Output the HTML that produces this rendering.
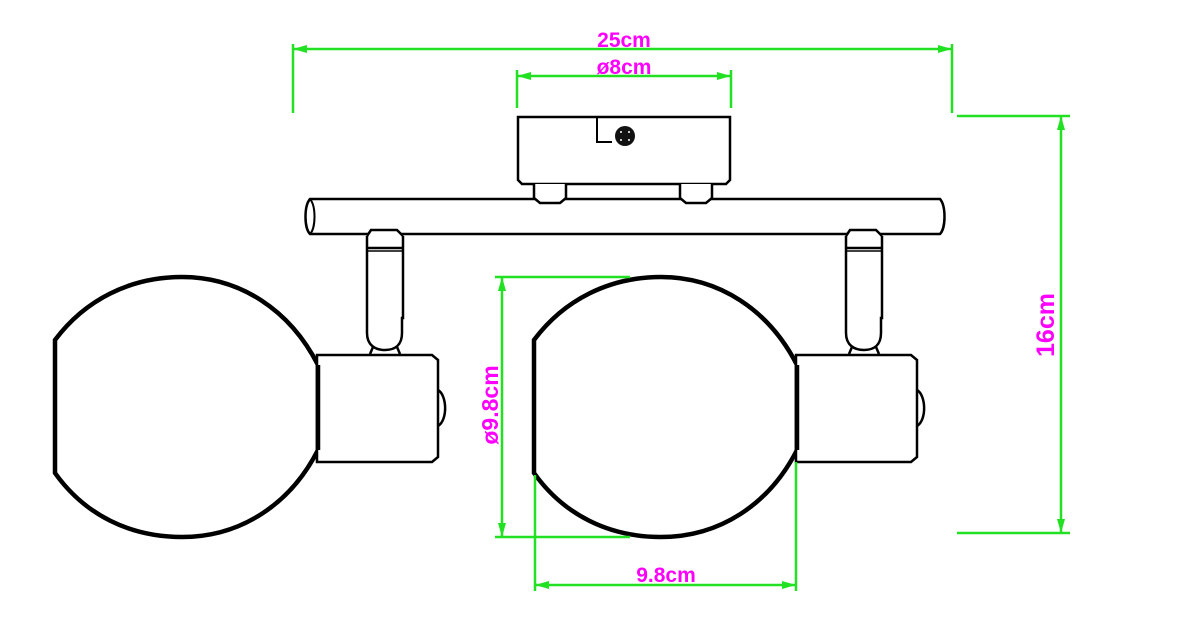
<!DOCTYPE html>
<html><head><meta charset="utf-8"><style>
html,body{margin:0;padding:0;background:#fff;}
svg{display:block;}
text{font-family:"Liberation Sans",sans-serif;font-weight:bold;fill:#ff00ff;font-size:20px;}
</style></head><body>
<svg width="1180" height="640" viewBox="0 0 1180 640" xmlns="http://www.w3.org/2000/svg">
<defs>
<g id="lamp">
  <path d="M0,340 L0,473 C30,515 75,537 127,537 C185,537 235,505 263,450 L263,365 C235,310 185,277 127,277 C75,277 30,300 0,340 Z" fill="#fff" stroke="#000" stroke-width="4.5"/>
  <path d="M312,236 L312,333 C312,345 320,350 330,350 C340,350 347,345 347,333 L347,318 L348,318 L348,236" fill="#fff" stroke="#000" stroke-width="2.5"/>
  <path d="M312,236 L316,230 L342,230 L348,236" fill="#fff" stroke="#000" stroke-width="2.5"/>
  <line x1="312" y1="248" x2="348" y2="248" stroke="#000" stroke-width="2.5"/>
  <line x1="312" y1="251" x2="348" y2="251" stroke="#000" stroke-width="1.5"/>
  <path d="M318,347 L315,354 M342,347 L345,354" stroke="#000" stroke-width="2.5"/>
  <path d="M262,355 L377,355 L383,360 L383,457 L377,462 L262,462 Z" fill="#fff" stroke="#000" stroke-width="2.5"/>
  <line x1="263" y1="365" x2="263" y2="450" stroke="#000" stroke-width="4.5"/>
  <path d="M383,390 C392,395 393,420 383,426" fill="none" stroke="#000" stroke-width="2.5"/>
</g>
</defs>
<path d="M310,199 L940,199 C946,206 946,228 940,234 L310,234 C304,228 304,206 310,199 Z" fill="#fff" stroke="#000" stroke-width="2.5"/>
<path d="M310,199 C316,206 316,228 310,234" fill="none" stroke="#000" stroke-width="2"/>
<path d="M518,117 L730,117 L730,180 L726,184 L522,184 L518,180 Z" fill="#fff" stroke="#000" stroke-width="2.5"/>
<path d="M534,184 L534,198 L540,203 L560,203 L566,198 L566,184" fill="#fff" stroke="#000" stroke-width="2.5"/>
<path d="M680,184 L680,198 L686,203 L706,203 L712,198 L712,184" fill="#fff" stroke="#000" stroke-width="2.5"/>
<path d="M597,117 L597,142 L612,142" fill="none" stroke="#000" stroke-width="2"/>
<circle cx="625" cy="136" r="10" fill="#111"/>
<g fill="#fff"><circle cx="621" cy="132" r="1"/><circle cx="629" cy="132" r="1"/><circle cx="621" cy="140" r="1"/><circle cx="629" cy="140" r="1"/></g>
<use href="#lamp" x="55"/>
<use href="#lamp" x="534"/>
<g stroke="#22e022" stroke-width="2.5" fill="none">
  <line x1="293" y1="44" x2="293" y2="113"/><line x1="952" y1="44" x2="952" y2="113"/>
  <line x1="293" y1="49" x2="952" y2="49"/>
  <line x1="517" y1="70" x2="517" y2="108"/><line x1="731" y1="70" x2="731" y2="108"/>
  <line x1="517" y1="76" x2="731" y2="76"/>
  <line x1="957" y1="116" x2="1070" y2="116"/><line x1="957" y1="533" x2="1070" y2="533"/>
  <line x1="1061" y1="116" x2="1061" y2="533"/>
  <line x1="495" y1="277" x2="630" y2="277"/><line x1="495" y1="537" x2="630" y2="537"/>
  <line x1="502" y1="277" x2="502" y2="537"/>
  <line x1="535" y1="475" x2="535" y2="591"/><line x1="796" y1="462" x2="796" y2="591"/>
  <line x1="535" y1="585" x2="796" y2="585"/>
</g>
<g fill="#22e022">
  <path d="M293,49 l14,-4 l0,8 z"/><path d="M952,49 l-14,-4 l0,8 z"/>
  <path d="M517,76 l14,-4 l0,8 z"/><path d="M731,76 l-14,-4 l0,8 z"/>
  <path d="M1061,116 l-4,14 l8,0 z"/><path d="M1061,533 l-4,-14 l8,0 z"/>
  <path d="M502,277 l-4,14 l8,0 z"/><path d="M502,537 l-4,-14 l8,0 z"/>
  <path d="M535,585 l14,-4 l0,8 z"/><path d="M796,585 l-14,-4 l0,8 z"/>
</g>
<text x="624" y="47" text-anchor="middle" style="font-size:21px">25cm</text>
<text x="624" y="74" text-anchor="middle" style="font-size:21px">ø8cm</text>
<text x="666" y="582" text-anchor="middle" style="font-size:21px">9.8cm</text>
<text transform="translate(1054,325) rotate(-90)" text-anchor="middle" style="font-size:25px">16cm</text>
<text transform="translate(498,405) rotate(-90)" text-anchor="middle" style="font-size:23px">ø9.8cm</text>
</svg>
</body></html>
